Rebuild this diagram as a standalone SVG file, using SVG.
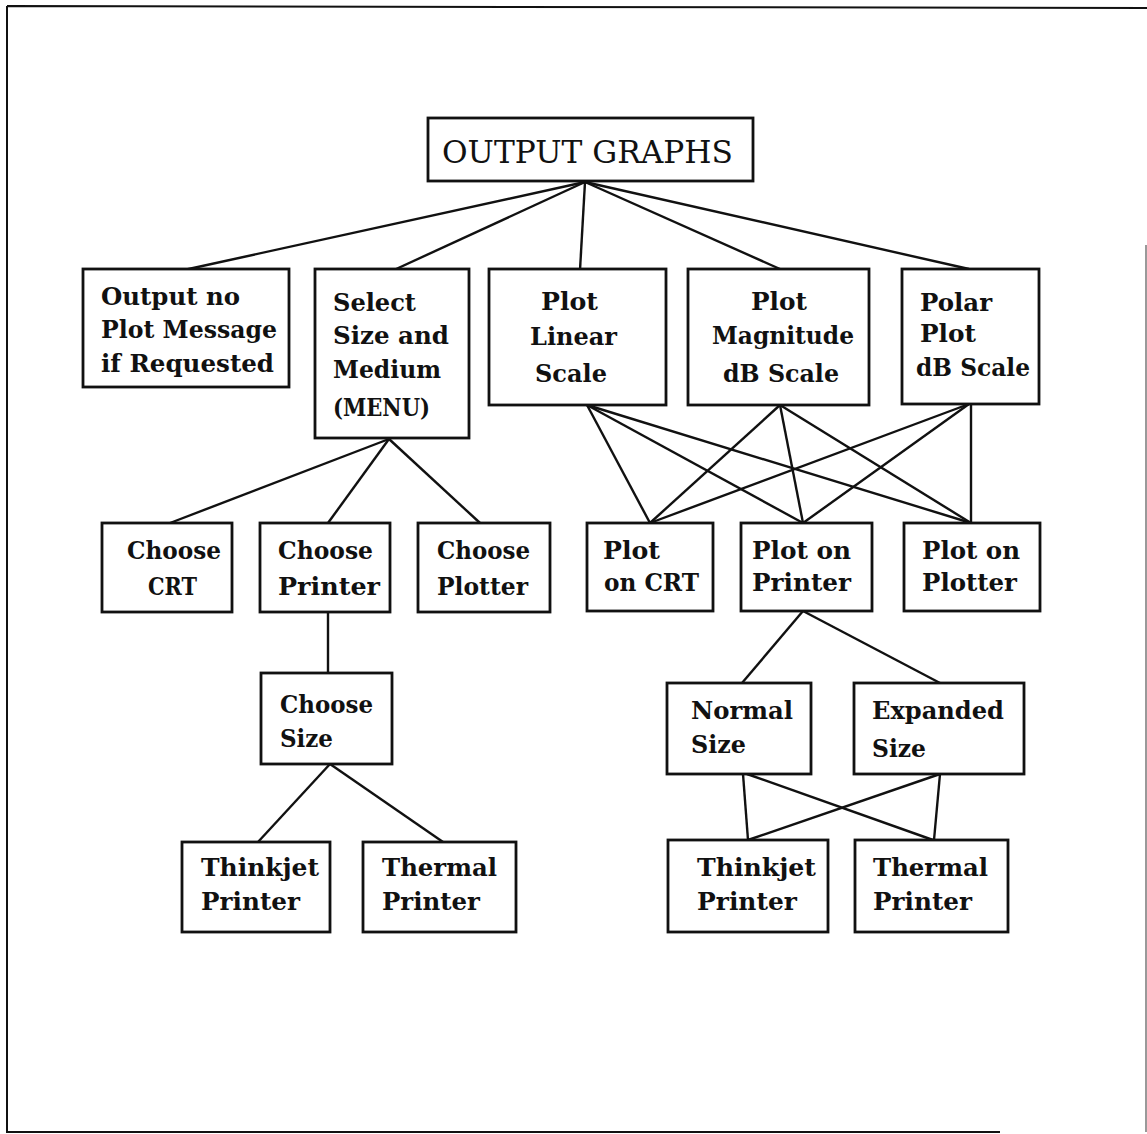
<svg xmlns="http://www.w3.org/2000/svg" width="1147" height="1134" viewBox="0 0 1147 1134">
<style>
.bx{fill:#fff;stroke:#111;stroke-width:2.8}
.t{font-family:"DejaVu Serif","Liberation Serif",serif;font-weight:bold;font-size:23.5px;fill:#111}
.h{font-family:"DejaVu Serif","Liberation Serif",serif;font-weight:normal;font-size:31px;fill:#111}
.c line{stroke:#111;stroke-width:2.4}
.frame{fill:none;stroke:#111;stroke-width:2}
</style>
<rect x="0" y="0" width="1147" height="1134" fill="#fff"/>
<g id="frame">
<path class="frame" d="M7,6 L1147,8 M7,6 L7,1132 L1000,1132"/>
<path d="M1146,245 L1146,1132" fill="none" stroke="#777" stroke-width="1.5"/>
</g>
<g id="connectors" class="c">
<line x1="585" y1="182" x2="184" y2="270"/>
<line x1="585" y1="182" x2="394" y2="270"/>
<line x1="585" y1="182" x2="580" y2="270"/>
<line x1="585" y1="182" x2="780" y2="269"/>
<line x1="585" y1="182" x2="969" y2="269"/>
<line x1="389" y1="439" x2="170" y2="523"/>
<line x1="389" y1="439" x2="328" y2="523"/>
<line x1="389" y1="439" x2="480" y2="523"/>
<line x1="328" y1="612" x2="328" y2="673"/>
<line x1="330" y1="764" x2="258" y2="842"/>
<line x1="330" y1="764" x2="443" y2="842"/>
<line x1="587" y1="405" x2="650" y2="523"/>
<line x1="587" y1="405" x2="803" y2="523"/>
<line x1="587" y1="405" x2="971" y2="523"/>
<line x1="780" y1="405" x2="650" y2="523"/>
<line x1="780" y1="405" x2="803" y2="523"/>
<line x1="780" y1="405" x2="971" y2="523"/>
<line x1="969" y1="404" x2="650" y2="523"/>
<line x1="969" y1="404" x2="803" y2="523"/>
<line x1="971" y1="404" x2="971" y2="523"/>
<line x1="803" y1="611" x2="742" y2="683"/>
<line x1="803" y1="611" x2="940" y2="683"/>
<line x1="743" y1="774" x2="748" y2="840"/>
<line x1="747" y1="774" x2="933" y2="840"/>
<line x1="940" y1="774" x2="748" y2="840"/>
<line x1="940" y1="774" x2="934" y2="840"/>
</g>
<g id="output-graphs">
<rect class="bx" x="428" y="118" width="325" height="63"/>
<text class="h" x="442" y="163" textLength="291" lengthAdjust="spacingAndGlyphs">OUTPUT GRAPHS</text>
</g>
<g id="output-no-plot">
<rect class="bx" x="83" y="269" width="206" height="118"/>
<text class="t" x="101" y="305" textLength="139" lengthAdjust="spacingAndGlyphs">Output no</text>
<text class="t" x="101" y="338" textLength="176" lengthAdjust="spacingAndGlyphs">Plot Message</text>
<text class="t" x="101" y="372" textLength="173" lengthAdjust="spacingAndGlyphs">if Requested</text>
</g>
<g id="select-size-medium">
<rect class="bx" x="315" y="269" width="154" height="169"/>
<text class="t" x="333" y="311" textLength="83" lengthAdjust="spacingAndGlyphs">Select</text>
<text class="t" x="333" y="344" textLength="116" lengthAdjust="spacingAndGlyphs">Size and</text>
<text class="t" x="333" y="378" textLength="108" lengthAdjust="spacingAndGlyphs">Medium</text>
<text class="t" x="333" y="416" textLength="97" lengthAdjust="spacingAndGlyphs">(MENU)</text>
</g>
<g id="plot-linear">
<rect class="bx" x="489" y="269" width="177" height="136"/>
<text class="t" x="541" y="310" textLength="57" lengthAdjust="spacingAndGlyphs">Plot</text>
<text class="t" x="530" y="345" textLength="87" lengthAdjust="spacingAndGlyphs">Linear</text>
<text class="t" x="535" y="382" textLength="72" lengthAdjust="spacingAndGlyphs">Scale</text>
</g>
<g id="plot-magnitude">
<rect class="bx" x="688" y="269" width="181" height="136"/>
<text class="t" x="751" y="310" textLength="56" lengthAdjust="spacingAndGlyphs">Plot</text>
<text class="t" x="712" y="344" textLength="142" lengthAdjust="spacingAndGlyphs">Magnitude</text>
<text class="t" x="723" y="382" textLength="116" lengthAdjust="spacingAndGlyphs">dB Scale</text>
</g>
<g id="polar-plot">
<rect class="bx" x="902" y="269" width="137" height="135"/>
<text class="t" x="920" y="311" textLength="72" lengthAdjust="spacingAndGlyphs">Polar</text>
<text class="t" x="920" y="342" textLength="56" lengthAdjust="spacingAndGlyphs">Plot</text>
<text class="t" x="916" y="376" textLength="114" lengthAdjust="spacingAndGlyphs">dB Scale</text>
</g>
<g id="choose-crt">
<rect class="bx" x="102" y="523" width="130" height="89"/>
<text class="t" x="127" y="559" textLength="94" lengthAdjust="spacingAndGlyphs">Choose</text>
<text class="t" x="148" y="595" textLength="49" lengthAdjust="spacingAndGlyphs">CRT</text>
</g>
<g id="choose-printer">
<rect class="bx" x="260" y="523" width="130" height="89"/>
<text class="t" x="278" y="559" textLength="95" lengthAdjust="spacingAndGlyphs">Choose</text>
<text class="t" x="278" y="595" textLength="102" lengthAdjust="spacingAndGlyphs">Printer</text>
</g>
<g id="choose-plotter">
<rect class="bx" x="418" y="523" width="132" height="89"/>
<text class="t" x="437" y="559" textLength="93" lengthAdjust="spacingAndGlyphs">Choose</text>
<text class="t" x="437" y="595" textLength="91" lengthAdjust="spacingAndGlyphs">Plotter</text>
</g>
<g id="plot-on-crt">
<rect class="bx" x="587" y="523" width="126" height="88"/>
<text class="t" x="603" y="559" textLength="57" lengthAdjust="spacingAndGlyphs">Plot</text>
<text class="t" x="604" y="591" textLength="95" lengthAdjust="spacingAndGlyphs">on CRT</text>
</g>
<g id="plot-on-printer">
<rect class="bx" x="741" y="523" width="131" height="88"/>
<text class="t" x="752" y="559" textLength="99" lengthAdjust="spacingAndGlyphs">Plot on</text>
<text class="t" x="752" y="591" textLength="99" lengthAdjust="spacingAndGlyphs">Printer</text>
</g>
<g id="plot-on-plotter">
<rect class="bx" x="904" y="523" width="136" height="88"/>
<text class="t" x="922" y="559" textLength="98" lengthAdjust="spacingAndGlyphs">Plot on</text>
<text class="t" x="922" y="591" textLength="95" lengthAdjust="spacingAndGlyphs">Plotter</text>
</g>
<g id="choose-size">
<rect class="bx" x="261" y="673" width="131" height="91"/>
<text class="t" x="280" y="713" textLength="93" lengthAdjust="spacingAndGlyphs">Choose</text>
<text class="t" x="280" y="747" textLength="53" lengthAdjust="spacingAndGlyphs">Size</text>
</g>
<g id="thinkjet-left">
<rect class="bx" x="182" y="842" width="148" height="90"/>
<text class="t" x="201" y="876" textLength="118" lengthAdjust="spacingAndGlyphs">Thinkjet</text>
<text class="t" x="201" y="910" textLength="99" lengthAdjust="spacingAndGlyphs">Printer</text>
</g>
<g id="thermal-left">
<rect class="bx" x="363" y="842" width="153" height="90"/>
<text class="t" x="382" y="876" textLength="115" lengthAdjust="spacingAndGlyphs">Thermal</text>
<text class="t" x="382" y="910" textLength="98" lengthAdjust="spacingAndGlyphs">Printer</text>
</g>
<g id="normal-size">
<rect class="bx" x="667" y="683" width="144" height="91"/>
<text class="t" x="691" y="719" textLength="102" lengthAdjust="spacingAndGlyphs">Normal</text>
<text class="t" x="691" y="753" textLength="55" lengthAdjust="spacingAndGlyphs">Size</text>
</g>
<g id="expanded-size">
<rect class="bx" x="854" y="683" width="170" height="91"/>
<text class="t" x="872" y="719" textLength="132" lengthAdjust="spacingAndGlyphs">Expanded</text>
<text class="t" x="872" y="757" textLength="54" lengthAdjust="spacingAndGlyphs">Size</text>
</g>
<g id="thinkjet-right">
<rect class="bx" x="668" y="840" width="160" height="92"/>
<text class="t" x="697" y="876" textLength="119" lengthAdjust="spacingAndGlyphs">Thinkjet</text>
<text class="t" x="697" y="910" textLength="100" lengthAdjust="spacingAndGlyphs">Printer</text>
</g>
<g id="thermal-right">
<rect class="bx" x="855" y="840" width="153" height="92"/>
<text class="t" x="873" y="876" textLength="115" lengthAdjust="spacingAndGlyphs">Thermal</text>
<text class="t" x="873" y="910" textLength="99" lengthAdjust="spacingAndGlyphs">Printer</text>
</g>
</svg>
